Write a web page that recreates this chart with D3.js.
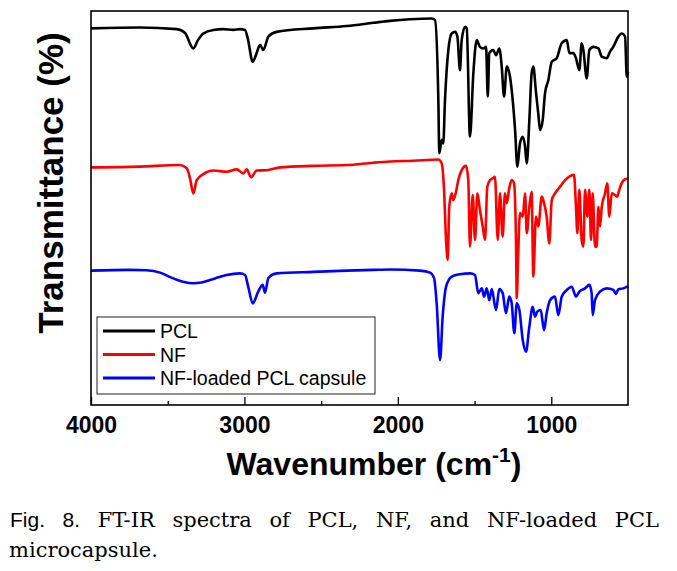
<!DOCTYPE html>
<html>
  <head>
    <meta charset="UTF-8" />
    <style>
      body {
        margin: 0;
        background: #fff;
      }
      svg {
        display: block;
      }
      .bold-sans {
        font-family: "Liberation Sans", Arial, sans-serif;
        font-weight: bold;
      }
      .legend text {
        font-family: "Liberation Sans", Arial, sans-serif;
        font-size: 19.5px;
      }
    </style>
  </head>
  <body>
    <svg></svg>
    <script src="https://d3js.org/d3.v7.min.js"></script>
    <script>
      // spectra: [wavenumber, transmittance (offset, a.u.)]
      const pclSpectrum = [
        [4000, 95.6], [3681, 95.8], [3441, 95.4], [3387, 94.4], [3333, 90.5], [3303, 92.6],
        [3268, 94.3], [3203, 95.2], [3138, 95.4], [3073, 95.2], [3029, 95.4], [2996, 95.2],
        [2977, 92.8], [2946, 87.1], [2925, 88.8], [2898, 91.4], [2877, 90.1], [2844, 93.5],
        [2790, 94.7], [2551, 95.6], [2333, 96.2], [2160, 97.0], [2051, 97.5], [1921, 97.9],
        [1779, 98.1], [1758, 97.7], [1736, 77.2], [1730, 63.9], [1714, 67.3], [1704, 66.4],
        [1693, 77.2], [1671, 90.1], [1649, 94.3], [1627, 94.7], [1612, 93.5], [1595, 85.0],
        [1584, 92.6], [1562, 96.0], [1551, 95.6], [1530, 68.1], [1508, 84.2], [1486, 92.6],
        [1465, 90.9], [1443, 90.5], [1425, 90.9], [1414, 78.3], [1404, 89.3], [1378, 90.1],
        [1360, 88.8], [1339, 90.5], [1323, 85.9], [1308, 78.3], [1290, 85.9], [1269, 83.3],
        [1251, 77.2], [1236, 69.8], [1221, 60.5], [1204, 66.4], [1186, 68.1], [1171, 65.6],
        [1160, 61.3], [1143, 72.3], [1128, 84.2], [1117, 85.9], [1101, 79.9], [1085, 74.0],
        [1073, 69.8], [1056, 72.3], [1041, 79.1], [1019, 82.5], [997, 87.1], [965, 88.0],
        [932, 91.8], [899, 92.6], [882, 89.3], [856, 89.3], [839, 88.0], [817, 85.0],
        [802, 91.8], [791, 90.1], [769, 82.9], [752, 90.1], [726, 90.9], [693, 90.5],
        [671, 88.4], [639, 88.0], [617, 89.7], [596, 90.9], [563, 93.5], [541, 94.3],
        [519, 93.5], [508, 83.3], [500, 84.6]
      ];

      const nfSpectrum = [
        [4000, 60.3], [3681, 60.5], [3420, 60.9], [3376, 60.1], [3355, 57.6], [3333, 53.7],
        [3311, 57.1], [3268, 58.6], [3203, 59.5], [3116, 59.2], [3050, 59.8], [3007, 58.8],
        [2985, 59.8], [2957, 57.8], [2920, 59.5], [2855, 59.6], [2768, 60.3], [2551, 60.7],
        [2333, 60.9], [2160, 61.5], [2051, 61.8], [1899, 62.0], [1736, 62.3], [1714, 61.3],
        [1699, 54.6], [1686, 41.9], [1675, 36.8], [1665, 50.3], [1649, 53.7], [1639, 52.0],
        [1621, 54.1], [1606, 57.1], [1584, 59.6], [1556, 60.7], [1541, 57.1], [1530, 40.2],
        [1512, 53.3], [1497, 41.9], [1482, 53.7], [1465, 49.5], [1447, 45.3], [1432, 41.9],
        [1417, 55.4], [1399, 57.1], [1382, 57.5], [1367, 57.9], [1349, 41.9], [1334, 53.7],
        [1317, 42.7], [1302, 53.7], [1290, 51.2], [1274, 55.0], [1258, 57.1], [1243, 56.3],
        [1230, 41.9], [1225, 27.1], [1217, 36.8], [1204, 48.7], [1186, 47.8], [1171, 53.7],
        [1160, 43.6], [1143, 50.3], [1128, 54.1], [1117, 32.6], [1100, 47.8], [1085, 45.3],
        [1062, 52.9], [1047, 51.2], [1030, 47.8], [1013, 41.0], [997, 52.0], [976, 53.7],
        [943, 55.4], [910, 57.1], [878, 58.1], [852, 58.4], [839, 50.3], [830, 43.6],
        [817, 54.6], [802, 41.9], [791, 40.2], [780, 54.6], [765, 47.8], [752, 54.6],
        [741, 41.9], [730, 53.7], [715, 40.2], [704, 40.2], [693, 50.3], [682, 45.3],
        [671, 50.3], [650, 53.7], [635, 56.3], [622, 47.8], [606, 53.7], [585, 53.3],
        [570, 52.9], [557, 54.6], [541, 56.3], [519, 57.3], [500, 57.5]
      ];

      const capsuleSpectrum = [
        [4000, 34.1], [3750, 34.3], [3637, 34.2], [3550, 33.6], [3480, 32.4], [3441, 31.8],
        [3400, 31.3], [3333, 30.9], [3280, 31.1], [3224, 31.7], [3170, 32.4], [3116, 33.0],
        [3029, 33.4], [2996, 33.0], [2975, 30.0], [2946, 25.8], [2910, 28.8], [2881, 30.5],
        [2866, 28.5], [2844, 32.2], [2790, 33.4], [2551, 33.8], [2333, 34.1], [2160, 34.3],
        [2051, 34.4], [1856, 34.1], [1790, 33.6], [1764, 32.2], [1747, 25.8], [1725, 11.4],
        [1708, 22.4], [1686, 30.0], [1649, 32.6], [1595, 33.2], [1530, 33.4], [1497, 33.0],
        [1476, 28.4], [1453, 29.6], [1438, 27.5], [1421, 29.6], [1404, 26.6], [1388, 29.4],
        [1360, 24.1], [1339, 29.4], [1317, 28.4], [1295, 23.3], [1274, 27.5], [1258, 25.8],
        [1241, 18.2], [1225, 25.8], [1208, 24.1], [1186, 16.5], [1165, 13.5], [1143, 19.9],
        [1121, 24.9], [1106, 22.4], [1091, 23.7], [1069, 24.1], [1047, 19.0], [1030, 23.3],
        [1008, 26.6], [976, 27.5], [954, 22.8], [932, 27.5], [899, 29.2], [867, 30.0],
        [839, 27.5], [817, 28.8], [780, 29.6], [752, 30.5], [737, 28.4], [730, 22.8],
        [715, 26.6], [682, 28.8], [639, 29.6], [596, 29.2], [578, 28.2], [563, 29.4],
        [531, 29.6], [500, 30.2]
      ];

      const seriesNames = ["PCL", "NF", "NF-loaded PCL capsule"];
      const seriesColors = ["#000000", "#ff0000", "#0000ff"];
      const majorTicks = [4000, 3000, 2000, 1000];
      const minorTicks = [3500, 2500, 1500];

      let width = 677,
        height = 571;
      let plotLeft = 91,
        plotRight = 628,
        plotTop = 11,
        plotBottom = 405;

      let svg = d3.select("svg").attr("width", width).attr("height", height);
      svg.append("rect").attr("width", width).attr("height", height).attr("fill", "#fff");

      let x = d3.scaleLinear().domain([4000, 500]).range([plotLeft, plotRight]);
      let y = d3.scaleLinear().domain([0, 100]).range([plotBottom, plotTop]);

      let line = d3
        .line()
        .x((d) => x(d[0]))
        .y((d) => y(d[1]))
        .curve(d3.curveMonotoneX);

      // spectra
      let spectra = [pclSpectrum, nfSpectrum, capsuleSpectrum];
      svg
        .append("g")
        .selectAll("path")
        .data(spectra)
        .enter()
        .append("path")
        .attr("d", line)
        .attr("fill", "none")
        .attr("stroke", (d, i) => seriesColors[i])
        .attr("stroke-width", 2.6)
        .attr("stroke-linejoin", "round");

      // axes: ticks point inward
      let xAxis = svg
        .append("g")
        .attr("transform", "translate(0," + plotBottom + ")")
        .call(
          d3
            .axisBottom(x)
            .tickValues(majorTicks)
            .tickSize(-8)
            .tickPadding(12)
            .tickFormat(d3.format("d"))
        );
      xAxis.select(".domain").remove();
      xAxis.selectAll("line").attr("stroke", "#000").attr("stroke-width", 1.3);
      xAxis
        .selectAll("text")
        .attr("class", "bold-sans")
        .attr("font-size", 23)
        .attr("fill", "#000");

      let xMinor = svg
        .append("g")
        .attr("transform", "translate(0," + plotBottom + ")")
        .call(d3.axisBottom(x).tickValues(minorTicks).tickSize(-4).tickFormat(""));
      xMinor.select(".domain").remove();
      xMinor.selectAll("line").attr("stroke", "#000").attr("stroke-width", 1.3);

      // frame
      svg
        .append("rect")
        .attr("x", plotLeft)
        .attr("y", plotTop)
        .attr("width", plotRight - plotLeft)
        .attr("height", plotBottom - plotTop)
        .attr("fill", "none")
        .attr("stroke", "#000")
        .attr("stroke-width", 1.6);

      // axis titles
      svg
        .append("text")
        .attr("class", "bold-sans")
        .attr("transform", "translate(63,183) rotate(-90)")
        .attr("text-anchor", "middle")
        .attr("font-size", 35)
        .text("Transmittance (%)");

      let xTitle = svg
        .append("text")
        .attr("class", "bold-sans")
        .attr("x", 374)
        .attr("y", 475)
        .attr("text-anchor", "middle")
        .attr("font-size", 32);
      xTitle.append("tspan").text("Wavenumber (cm");
      xTitle.append("tspan").attr("dy", -13).attr("font-size", 21).text("-1");
      xTitle.append("tspan").attr("dy", 13).text(")");

      // legend
      let legend = svg.append("g").attr("class", "legend");
      legend
        .append("rect")
        .attr("x", 97)
        .attr("y", 317)
        .attr("width", 278)
        .attr("height", 77)
        .attr("fill", "#fff")
        .attr("stroke", "#222")
        .attr("stroke-width", 1);
      let rows = legend
        .selectAll("g.row")
        .data(seriesNames)
        .enter()
        .append("g")
        .attr("class", "row")
        .attr("transform", (d, i) => "translate(0," + (331 + i * 23.5) + ")");
      rows
        .append("line")
        .attr("x1", 103)
        .attr("x2", 155)
        .attr("stroke", (d, i) => seriesColors[i])
        .attr("stroke-width", 2.8);
      rows
        .append("text")
        .attr("x", 160)
        .attr("y", 7)
        .text((d) => d);

      // caption, justified on the first line
      const captionWords = [
        ["Fig.", "sans"], ["8.", "sans"], ["FT-IR", "serif"], ["spectra", "serif"],
        ["of", "serif"], ["PCL,", "serif"], ["NF,", "serif"], ["and", "serif"],
        ["NF-loaded", "serif"], ["PCL", "serif"]
      ];
      function styleWord(sel, kind) {
        if (kind === "sans") {
          sel.attr("font-family", '"Liberation Sans", Arial, sans-serif').attr("font-size", 21);
        } else {
          sel.attr("font-family", '"DejaVu Serif", serif').attr("font-size", 21);
        }
      }
      let cap = svg.append("g");
      let words = captionWords.map((w) => {
        let t = cap.append("text").attr("y", 527).text(w[0]);
        styleWord(t, w[1]);
        return t;
      });
      let widths = words.map((t) => t.node().getComputedTextLength());
      let capLeft = 10,
        capRight = 659;
      let gap = (capRight - capLeft - d3.sum(widths)) / (words.length - 1);
      let cx = capLeft;
      words.forEach((t, i) => {
        t.attr("x", cx);
        cx += widths[i] + gap;
      });
      let line2 = cap.append("text").attr("x", 9).attr("y", 557).text("microcapsule.");
      styleWord(line2, "serif");
    </script>
  </body>
</html>
